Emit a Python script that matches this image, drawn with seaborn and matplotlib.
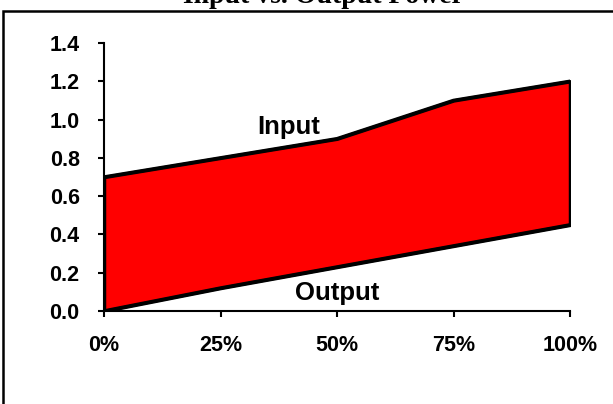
import numpy as np
import pandas as pd
import matplotlib
matplotlib.use("Agg")
import matplotlib.pyplot as plt
from matplotlib.patches import Rectangle
import seaborn as sns

# Daten
load_pct = [0, 25, 50, 75, 100]
input_power = [0.7, 0.8, 0.9, 1.1, 1.2]
output_power = [0.0, 0.12, 0.23, 0.34, 0.45]
y_ticks = [0.0, 0.2, 0.4, 0.6, 0.8, 1.0, 1.2, 1.4]
x_ticklabels = ["0%", "25%", "50%", "75%", "100%"]


def main():
    df = pd.DataFrame({"load": load_pct, "Input": input_power, "Output": output_power})

    sns.set_theme(style="white")
    plt.rcParams["font.family"] = ["Liberation Sans", "DejaVu Sans"]
    plt.rcParams["text.color"] = "black"

    fig = plt.figure(figsize=(6.13, 4.04), dpi=100)
    ax = fig.add_axes([104 / 613, 1 - 311 / 404, (570 - 104) / 613, (311 - 43) / 404])

    # Flaeche zwischen Input und Output
    ax.fill_between(df["load"], df["Output"], df["Input"],
                    facecolor="#ff0000", edgecolor="black", linewidth=2.5, zorder=2)
    sns.lineplot(data=df, x="load", y="Input", color="black", linewidth=2.5, ax=ax, zorder=3)
    sns.lineplot(data=df, x="load", y="Output", color="black", linewidth=2.5, ax=ax, zorder=3)

    ax.set_xlim(0, 100)
    ax.set_ylim(0, 1.4)
    ax.set_xticks(load_pct)
    ax.set_xticklabels(x_ticklabels)
    ax.set_yticks(y_ticks)
    ax.set_yticklabels([f"{v:.1f}" for v in y_ticks])
    ax.set_xlabel("")
    ax.set_ylabel("")

    for side in ["top", "right"]:
        ax.spines[side].set_visible(False)
    for side in ["left", "bottom"]:
        ax.spines[side].set_color("black")
        ax.spines[side].set_linewidth(1.5)

    ax.tick_params(axis="both", direction="out", length=4.5, width=1.5, color="black",
                   labelsize=15.5, labelcolor="black")
    ax.tick_params(axis="x", pad=13)
    ax.tick_params(axis="y", pad=13)
    ax.tick_params(left=True, bottom=True)
    for lbl in ax.get_xticklabels() + ax.get_yticklabels():
        lbl.set_fontweight("bold")

    # Beschriftungen der Linien
    ax.text(39.7, 0.963, "Input", ha="center", va="center", fontsize=18.5,
            fontweight="bold", color="black")
    ax.text(50, 0.094, "Output", ha="center", va="center", fontsize=18.5,
            fontweight="bold", color="black")

    # Titel (oben abgeschnitten) und Rahmen
    fig.text(323 / 613, 1 - 3 / 404, "Input vs. Output Power", ha="center", va="baseline",
             fontsize=20, fontweight="bold", color="black",
             family=["Liberation Serif", "DejaVu Serif"])
    fig.patches.append(Rectangle((3 / 613, -0.2), 1.2, 1.2 - 11 / 404,
                                 transform=fig.transFigure, fill=False,
                                 edgecolor="black", linewidth=1.8))

    fig.savefig("out.png", dpi=100)
    plt.close(fig)


if __name__ == "__main__":
    main()
